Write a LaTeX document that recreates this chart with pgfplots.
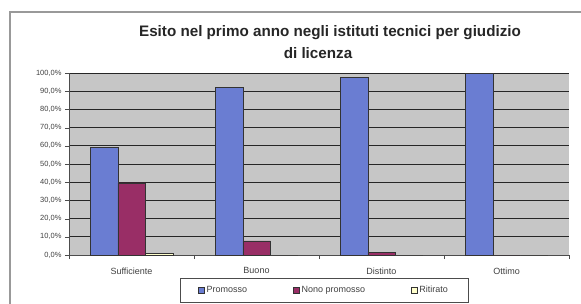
\documentclass[border=0pt]{standalone}
\usepackage{pgfplots}
\pgfplotsset{compat=1.18}
\usepackage{fontspec}
\setmainfont{Liberation Sans}
\definecolor{cblue}{HTML}{6A7DD2}
\definecolor{cred}{HTML}{992E66}
\definecolor{cyel}{HTML}{FFFFCC}
\definecolor{cbg}{HTML}{C6C6C6}
\definecolor{ctxt}{HTML}{404040}
\begin{document}
\begin{tikzpicture}[x=1pt,y=1pt]
\path[use as bounding box] (0,0) rectangle (581,303);
\draw[black!40, line width=1.2pt] (10,-5) -- (10,291) -- (590,291);
\node[font=\fontsize{15.2}{17}\selectfont\bfseries, text=black!85] at (330,270) {Esito nel primo anno negli istituti tecnici per giudizio};
\node[font=\fontsize{15.2}{17}\selectfont\bfseries, text=black!85] at (318,250) {di licenza};
\begin{axis}[
  at={(69pt,48pt)}, anchor=south west,
  scale only axis, width=500pt, height=182pt,
  ybar=0pt, bar width=27.5pt,
  xmin=-0.5, xmax=3.5, ymin=0, ymax=100,
  axis background/.style={fill=cbg},
  axis line style={black!70},
  axis x line*=bottom, axis y line*=left,
  ytick={0,10,...,100},
  yticklabel={\pgfmathprintnumber[fixed,fixed zerofill,precision=1,use comma]{\tick}\%},
  /pgf/number format/assume math mode=true,
  ymajorgrids, grid style={black!85, line width=0.8pt},
  xtick={0,1,2,3},
  xticklabels={Sufficiente,Buono,Distinto,Ottimo},
  minor xtick={-0.5,0.5,1.5,2.5,3.5},
  major x tick style={draw=none},
  minor tick length=4pt, major tick length=4pt,
  tick align=outside,
  tick style={black!70},
  yticklabel style={font=\fontsize{7.5}{8}\selectfont, text=ctxt},
  xticklabel style={font=\fontsize{9}{10}\selectfont, text=ctxt, yshift=-5pt},
  legend columns=3,
  legend style={at={(0.222,-0.126)}, anchor=north west, draw=black!70,
    font=\fontsize{9}{10}\selectfont, text=ctxt, inner xsep=18pt, inner ysep=6pt,
    /tikz/every even column/.append style={column sep=44pt}},
  legend image code/.code={\draw[#1, draw=black!80] (0pt,-3pt) rectangle (6pt,3pt);},
]
\addplot[fill=cblue, draw=black!80] coordinates {(0,59.3) (1,92.3) (2,97.8) (3,100)};
\addplot[fill=cred, draw=black!80] coordinates {(0,39.6) (1,7.7) (2,1.6) (3,0)};
\addplot[fill=cyel, draw=black!80] coordinates {(0,1.0) (1,0) (2,0) (3,0)};
\legend{Promosso,Nono promosso,Ritirato}
\end{axis}
\end{tikzpicture}
\end{document}
